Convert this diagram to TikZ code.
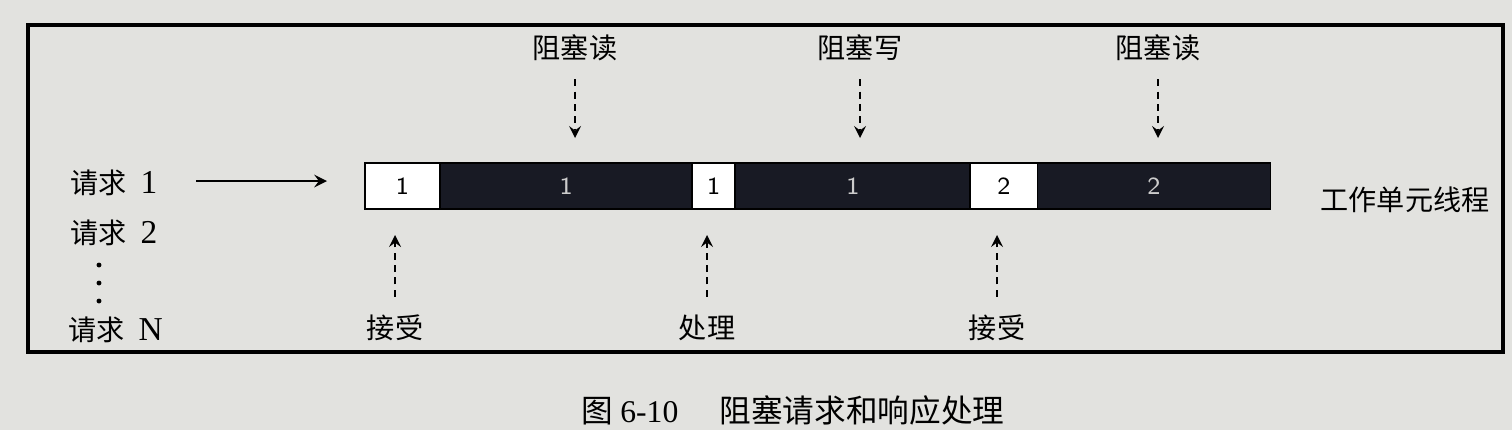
\documentclass[tikz,border=0pt]{standalone}
\usepackage{fontspec}
\setmainfont{Liberation Serif}
\newfontfamily\cjk{Noto Sans CJK SC}
\usepackage{xcolor}
\usetikzlibrary{positioning}
\definecolor{paper}{RGB}{226,226,223}
\definecolor{ink}{RGB}{24,26,36}

\begin{document}
\begin{tikzpicture}[x=0.01cm,y=-0.01cm,
  word/.style={font=\cjk\fontsize{8}{9}\selectfont,inner sep=1pt},
  idle/.style={draw=black,fill=white,line width=0.5pt,minimum height=0.46cm,inner sep=0pt,outer sep=0pt,font=\sffamily\fontsize{7}{8}\selectfont},
  busy/.style={idle,fill=ink,text=white!80!black},
  hint/.style={dash pattern=on 2pt off 1.5pt,-stealth,line width=0.5pt,shorten <=4pt}]
\useasboundingbox (0,0) rectangle (1512,430);
\fill[paper] (0,0) rectangle (1512,430);
\draw[line width=1.3pt] (28,25) rectangle (1503,352);

\node[idle,minimum width=0.75cm,anchor=west] (rx1) at (365,186) {1};
\node[busy,minimum width=2.52cm,right=0pt of rx1] (rd1) {1};
\node[idle,minimum width=0.43cm,right=0pt of rd1] (op1) {1};
\node[busy,minimum width=2.35cm,right=0pt of op1] (wr1) {1};
\node[idle,minimum width=0.67cm,right=0pt of wr1] (rx2) {2};
\node[busy,minimum width=2.33cm,right=0pt of rx2] (rd2) {2};
\node[word] (thr) at (1405,200) {工作单元线程};

\node[word,anchor=west] (q1) at (66,183) {请求\hspace{0.5em}{\rmfamily\fontsize{9.5}{10}\selectfont 1}};
\node[word,anchor=west] (q2) at (66,233) {请求\hspace{0.5em}{\rmfamily\fontsize{9.5}{10}\selectfont 2}};
\foreach \y in {265,283,301} \fill (99,\y) circle (0.7pt);
\node[word,anchor=west] (qn) at (64,330) {请求\hspace{0.5em}{\rmfamily\fontsize{9.5}{10}\selectfont N}};
\coordinate (in0) at (196,181);
\coordinate (in1) at (327,181);
\draw[-stealth,line width=0.6pt] (in0) -- (in1);

\node[word] (t1) at (575,48) {阻塞读};
\node[word] (t2) at (860,48) {阻塞写};
\node[word] (t3) at (1158,48) {阻塞读};
\coordinate (t1e) at (575,138);
\coordinate (t2e) at (860,138);
\coordinate (t3e) at (1158,138);
\draw[hint] (t1) -- (t1e);
\draw[hint] (t2) -- (t2e);
\draw[hint] (t3) -- (t3e);

\node[word] (b1) at (395,328) {接受};
\node[word] (b2) at (707,328) {处理};
\node[word] (b3) at (997,328) {接受};
\coordinate (b1e) at (395,235);
\coordinate (b2e) at (707,235);
\coordinate (b3e) at (997,235);
\draw[hint] (b1) -- (b1e);
\draw[hint] (b2) -- (b2e);
\draw[hint] (b3) -- (b3e);

\node[font=\cjk\fontsize{9}{10}\selectfont] (cap) at (793,410) {图 {\rmfamily 6-10}\hspace{1.3em}阻塞请求和响应处理};
\end{tikzpicture}
\end{document}
